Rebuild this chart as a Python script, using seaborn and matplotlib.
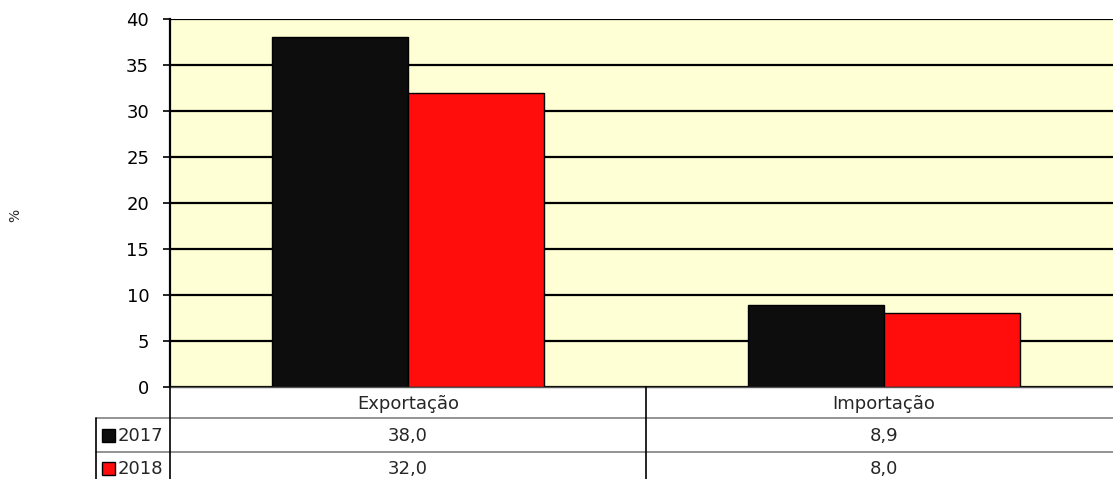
import matplotlib
matplotlib.use("Agg")
import matplotlib.pyplot as plt
import matplotlib.transforms as mtransforms
from matplotlib.lines import Line2D
from matplotlib.patches import Rectangle
import seaborn as sns
import pandas as pd

categories = ["Exportação", "Importação"]
years = ["2017", "2018"]
values_2017 = [38.0, 8.9]
values_2018 = [32.0, 8.0]
colors = ["#0D0D0D", "#FF0D0D"]

df = pd.DataFrame({
    "cat": categories * 2,
    "year": [years[0]] * 2 + [years[1]] * 2,
    "val": values_2017 + values_2018,
})

sns.set_theme(style="white")
plt.rcParams["font.family"] = ["DejaVu Sans"]

W, H = 1113, 479
fig = plt.figure(figsize=(W / 100, H / 100), dpi=100)
fig.patch.set_facecolor("white")
ax = fig.add_axes([170 / W, (H - 387) / H, (1122 - 170) / W, (387 - 19) / H])
ax.set_facecolor("#FFFFD6")

sns.barplot(data=df, x="cat", y="val", hue="year", order=categories,
            hue_order=years, palette=colors, width=0.572, saturation=1,
            edgecolor="black", linewidth=1.0, legend=False, ax=ax)

ax.set_xlim(-0.5, 1.5)
ax.set_ylim(0, 40)
ax.set_yticks(range(0, 41, 5))
ax.set_xticks([])
ax.set_xlabel("")
ax.set_ylabel("")
ax.yaxis.grid(True, color="black", linewidth=1.6)
ax.set_axisbelow(True)
ax.tick_params(axis="y", which="both", left=True, length=5, width=1.2,
               color="black", pad=10, labelsize=13, labelcolor="black")
for s in ["top", "right"]:
    ax.spines[s].set_visible(False)
ax.spines["left"].set_color("black")
ax.spines["left"].set_linewidth(1.6)
ax.spines["bottom"].set_color("#555555")
ax.spines["bottom"].set_linewidth(1.0)

fig.text(15 / W, 1 - 215 / H, "%", rotation=90, fontsize=10,
         ha="center", va="center")

def fy(y):
    return 1 - y / H

def hline(y, x0, x1, color, lw):
    fig.add_artist(Line2D([x0 / W, x1 / W], [fy(y), fy(y)],
                          transform=fig.transFigure, color=color, lw=lw))

def vline(x, y0, y1, color, lw):
    fig.add_artist(Line2D([x / W, x / W], [fy(y0), fy(y1)],
                          transform=fig.transFigure, color=color, lw=lw))

# table grid
hline(418, 96, W, "#808080", 1.2)
hline(452, 96, W, "#808080", 1.2)
vline(170, 387, H, "black", 1.2)
vline(646, 387, H, "black", 1.2)
vline(96, 418, H, "black", 1.2)

trans = mtransforms.blended_transform_factory(ax.transData, fig.transFigure)
rows = [values_2017, values_2018]
for i, c in enumerate(categories):
    fig.text(i, fy(404), c, transform=trans, ha="center", va="center", fontsize=13)
    for r, (vals, ycen) in enumerate(zip(rows, [436, 469])):
        fig.text(i, fy(ycen), f"{vals[i]:.1f}".replace(".", ","),
                 transform=trans, ha="center", va="center", fontsize=13)

for r, (yr, col, ycen) in enumerate(zip(years, colors, [435, 468])):
    fig.add_artist(Rectangle((102 / W, fy(ycen + 6.5)), 13 / W, 13 / H,
                             transform=fig.transFigure, facecolor=col,
                             edgecolor="black", lw=1.0))
    fig.text(118 / W, fy(ycen + 1), yr, ha="left", va="center", fontsize=13)

fig.savefig("out.png", dpi=100)
